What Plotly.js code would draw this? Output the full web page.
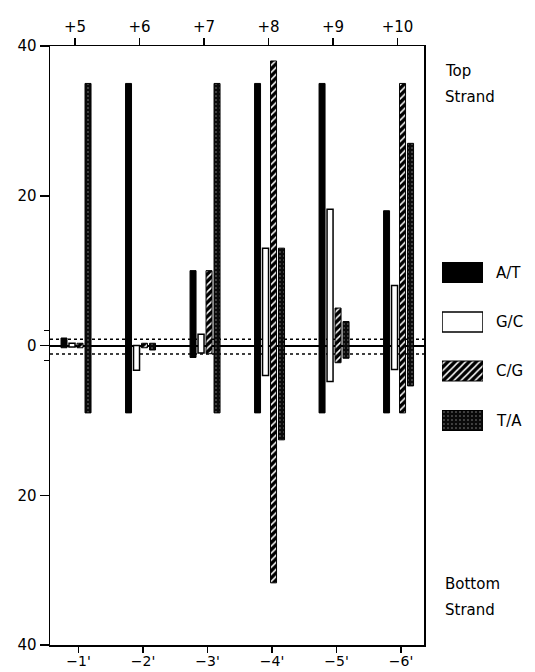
<!DOCTYPE html>
<html>
<head>
<meta charset="utf-8">
<script src="https://cdn.plot.ly/plotly-3.0.1.min.js"></script>
<style>html,body{margin:0;padding:0;background:#fff;}</style>
</head>
<body>
<div id="chart" style="width:535px;height:672px;"></div>
<script>
// ---- data ----
const positions = [1, 2, 3, 4, 5, 6];
const topLabels = ['+5', '+6', '+7', '+8', '+9', '+10'];
const bottomLabels = ["\u22121'", "\u22122'", "\u22123'", "\u22124'", "\u22125'", "\u22126'"];
const yTickVals = [-40, -20, 0, 20, 40];
const yTickText = ['40', '20', '0', '20', '40'];
const seriesNames = ['A/T', 'G/C', 'C/G', 'T/A'];
// top-strand (upper end) and bottom-strand (lower end) of each bar
const atTop = [1.0, 35, 10, 35, 35, 18];
const atBot = [-0.3, -9, -1.6, -9, -9, -9];
const gcTop = [0.3, 0, 1.5, 13, 18.2, 8];
const gcBot = [-0.2, -3.3, -1.0, -4.0, -4.8, -3.2];
const cgTop = [0.3, 0.3, 10, 38, 5, 35];
const cgBot = [-0.3, -0.3, -1.1, -31.7, -2.3, -9];
const taTop = [35, 0.3, 35, 13, 3.2, 27];
const taBot = [-9, -0.6, -9, -12.6, -1.7, -5.4];
const threshold = [0.85, -1.15];

// ---- styles ----
const FONT = 'DejaVu Sans, Arial, sans-serif';
const styles = [
  {color: '#000', line: {color: '#000', width: 1}},
  {color: '#fff', line: {color: '#000', width: 1.5}},
  {color: '#000', line: {color: '#000', width: 1},
   pattern: {shape: '/', fgcolor: '#fff', bgcolor: '#000', size: 5, solidity: 0.3}},
  {color: '#111', line: {color: '#000', width: 1},
   pattern: {shape: '.', fgcolor: '#8a8a8a', bgcolor: '#0a0a0a', size: 4, solidity: 0.12}}
];
const tops = [atTop, gcTop, cgTop, taTop];
const bots = [atBot, gcBot, cgBot, taBot];
const barW = 0.093;
const offsets = [-0.217, -0.093, 0.031, 0.155];

const traces = [];
for (let s = 0; s < 4; s++) {
  traces.push({
    type: 'bar', name: seriesNames[s],
    x: positions,
    y: tops[s].map((t, i) => t - bots[s][i]),
    base: bots[s],
    width: barW, offset: offsets[s],
    marker: styles[s],
    xaxis: 'x', yaxis: 'y', hoverinfo: 'skip', showlegend: false
  });
}
// dummy trace so bottom axis is drawn
traces.push({type: 'scatter', x: [positions[0]], y: [0], xaxis: 'x2', yaxis: 'y',
  mode: 'markers', marker: {opacity: 0}, hoverinfo: 'skip', showlegend: false});

// legend swatches (pixel-like coords on hidden axis)
const legY = [272.5, 322, 371, 420.5];
for (let s = 0; s < 4; s++) {
  traces.push({
    type: 'bar', orientation: 'h', x: [1], y: [legY[s]], base: [0],
    width: 20, offset: -10, marker: styles[s],
    xaxis: 'x3', yaxis: 'y3', hoverinfo: 'skip', showlegend: false
  });
}

const plotW = 485;
const mainDom = [0, 374 / plotW];
const annotations = [];
for (let s = 0; s < 4; s++) {
  annotations.push({xref: 'paper', yref: 'y3', x: (494 - 50) / plotW, y: legY[s],
    text: seriesNames[s], showarrow: false, xanchor: 'left', yanchor: 'middle',
    font: {family: FONT, size: 15, color: '#000'}});
}
[['Top', 71], ['Strand', 97], ['Bottom', 584], ['Strand', 610]].forEach(([t, y]) => {
  annotations.push({xref: 'paper', yref: 'y3', x: (443 - 50) / plotW, y: y,
    text: t, showarrow: false, xanchor: 'left', yanchor: 'middle',
    font: {family: FONT, size: 15, color: '#000'}});
});

const shapes = threshold.map(v => ({
  type: 'line', xref: 'x domain', yref: 'y', x0: 0, x1: 1, y0: v, y1: v,
  line: {color: '#000', width: 1.5, dash: 'dot'}, layer: 'below'
}));

const layout = {
  width: 535, height: 672,
  margin: {l: 50, r: 0, t: 46, b: 27, pad: 0},
  paper_bgcolor: '#fff', plot_bgcolor: 'rgba(0,0,0,0)',
  showlegend: false,
  font: {family: FONT, size: 14, color: '#000'},
  xaxis: {domain: mainDom, side: 'top', anchor: 'y', range: [0.612, 6.41],
    tickmode: 'array', tickvals: positions, ticktext: topLabels,
    ticks: 'outside', ticklen: 7, tickwidth: 1.5, tickcolor: '#000',
    showline: true, linewidth: 1.5, linecolor: '#000',
    showgrid: false, zeroline: false, fixedrange: true,
    tickfont: {family: FONT, size: 15}},
  xaxis2: {domain: mainDom, side: 'bottom', anchor: 'y', overlaying: 'x', range: [0.558, 6.356],
    tickmode: 'array', tickvals: positions, ticktext: bottomLabels,
    ticks: 'outside', ticklen: 6, tickwidth: 1.5, tickcolor: '#000',
    ticklabelstandoff: -3,
    showline: true, linewidth: 1.5, linecolor: '#000',
    showgrid: false, zeroline: false,
    tickfont: {family: FONT, size: 14}},
  yaxis: {domain: [0, 1], anchor: 'x', range: [-40, 40],
    tickmode: 'array', tickvals: yTickVals, ticktext: yTickText,
    ticks: 'outside', ticklen: 9, tickwidth: 1.5, tickcolor: '#000',
    minor: {tickmode: 'array', tickvals: [-2, 2], ticks: 'outside', ticklen: 5, tickcolor: '#000', showgrid: false},
    showline: true, mirror: true, linewidth: 1.5, linecolor: '#000',
    showgrid: false, zeroline: true, zerolinewidth: 2, zerolinecolor: '#000',
    tickfont: {family: FONT, size: 15}},
  xaxis3: {domain: [(442 - 50) / plotW, (483 - 50) / plotW], anchor: 'y3', range: [0, 1], visible: false, fixedrange: true},
  yaxis3: {domain: [0, 1], anchor: 'x3', range: [645, 46], visible: false, fixedrange: true},
  shapes: shapes,
  annotations: annotations
};

Plotly.newPlot('chart', traces, layout, {displayModeBar: false, staticPlot: true});
</script>
</body>
</html>
